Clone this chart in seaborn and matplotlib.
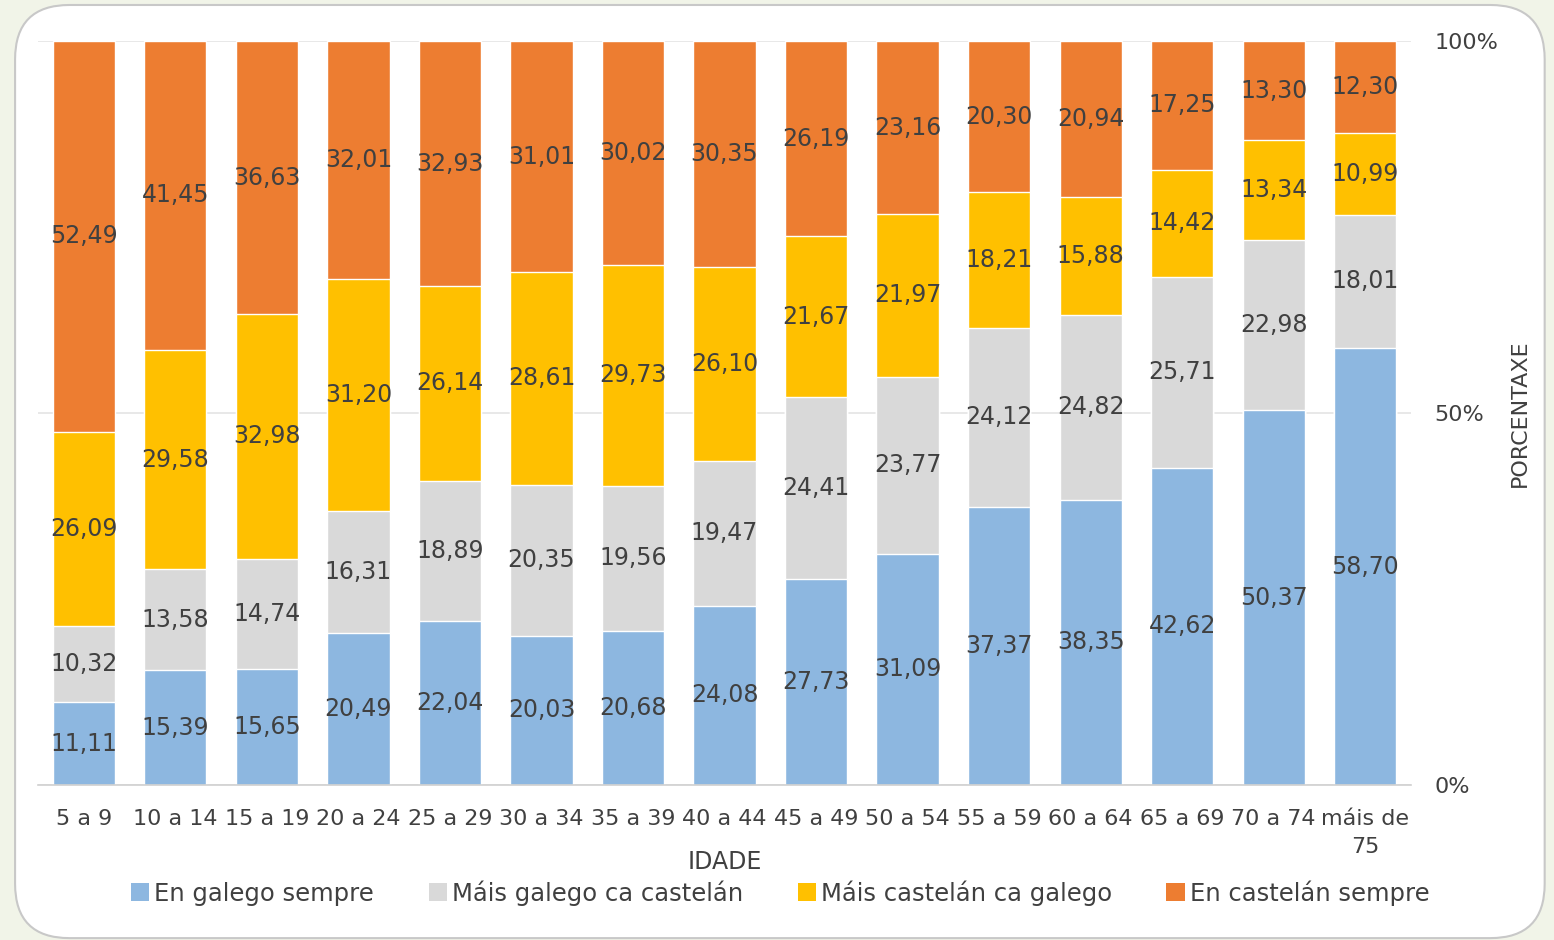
import matplotlib
matplotlib.use("Agg")
import matplotlib.pyplot as plt
from matplotlib.patches import FancyBboxPatch, Patch
import numpy as np
import pandas as pd
import seaborn as sns

# Age groups and share (%) of each language-use category
idade = ["5 a 9", "10 a 14", "15 a 19", "20 a 24", "25 a 29", "30 a 34",
         "35 a 39", "40 a 44", "45 a 49", "50 a 54", "55 a 59", "60 a 64",
         "65 a 69", "70 a 74", "máis de\n75"]
galego_sempre = [11.11, 15.39, 15.65, 20.49, 22.04, 20.03, 20.68, 24.08,
                 27.73, 31.09, 37.37, 38.35, 42.62, 50.37, 58.70]
mais_galego = [10.32, 13.58, 14.74, 16.31, 18.89, 20.35, 19.56, 19.47,
               24.41, 23.77, 24.12, 24.82, 25.71, 22.98, 18.01]
mais_castelan = [26.09, 29.58, 32.98, 31.20, 26.14, 28.61, 29.73, 26.10,
                 21.67, 21.97, 18.21, 15.88, 14.42, 13.34, 10.99]
castelan_sempre = [52.49, 41.45, 36.63, 32.01, 32.93, 31.01, 30.02, 30.35,
                   26.19, 23.16, 20.30, 20.94, 17.25, 13.30, 12.30]

series_names = ["En galego sempre", "Máis galego ca castelán",
                "Máis castelán ca galego", "En castelán sempre"]
series_vals = [galego_sempre, mais_galego, mais_castelan, castelan_sempre]
colors = ["#8DB7E0", "#D9D9D9", "#FFC000", "#ED7D31"]
text_col = "#404040"

sns.set_theme(style="white")
plt.rcParams["font.family"] = ["DejaVu Sans"]

fig = plt.figure(figsize=(15.54, 9.40), dpi=100)
fig.patch.set_facecolor("#F1F4E8")

# rounded white card behind the chart
card = FancyBboxPatch((0.0097, 0.002), 0.9843, 0.9927,
                      boxstyle="round,pad=0,rounding_size=0.035",
                      transform=fig.transFigure, facecolor="white",
                      edgecolor="#C8C8C8", linewidth=1.5, zorder=-5,
                      mutation_aspect=1554 / 940)
fig.patches.append(card)

ax = fig.add_axes([0.0245, 0.165, 0.8835, 0.791])
ax.set_facecolor("none")

# cumulative stacks, drawn tallest first so each shorter one covers the lower part
cum = np.cumsum(np.array(series_vals), axis=0)
df = pd.DataFrame({"idade": idade})
for i in range(3, -1, -1):
    df["val"] = cum[i]
    sns.barplot(data=df, x="idade", y="val", color=colors[i], width=0.68,
                saturation=1, ax=ax, zorder=2, order=idade)

# value labels centred in each segment
for i, vals in enumerate(series_vals):
    base = cum[i] - np.array(vals)
    for j, v in enumerate(vals):
        ax.text(j, base[j] + v / 2, f"{v:.2f}".replace(".", ","),
                ha="center", va="center", fontsize=17, color=text_col,
                zorder=5)

ax.set_ylim(0, 100)
ax.set_xlim(-0.5, len(idade) - 0.5)
ax.yaxis.tick_right()
ax.yaxis.set_label_position("right")
ax.set_yticks([0, 50, 100])
ax.set_yticklabels(["0%", "50%", "100%"])
ax.tick_params(axis="y", length=0, pad=17, labelsize=16, labelcolor=text_col)
ax.tick_params(axis="x", length=0, pad=17, labelsize=16, labelcolor=text_col)
for lab in ax.get_xticklabels():
    lab.set_linespacing(1.5)
    lab.set_va("top")
ax.grid(axis="y", color="#E4E4E4", linewidth=1.2, zorder=0)
for s in ["top", "left", "right"]:
    ax.spines[s].set_visible(False)
ax.spines["bottom"].set_color("#D0D0D0")
ax.spines["bottom"].set_linewidth(1.2)
ax.set_xlabel("IDADE", fontsize=17, color=text_col, labelpad=-5)
ax.set_ylabel("PORCENTAXE", fontsize=16, color=text_col, labelpad=8)

handles = [Patch(facecolor=c, edgecolor="none") for c in colors]
fig.legend(handles, series_names, loc="center", bbox_to_anchor=(0.502, 0.05),
           ncol=4, frameon=False, fontsize=17.5, handlelength=0.75,
           handleheight=0.75, handletextpad=0.2, columnspacing=2.25,
           labelcolor=text_col)

fig.savefig("out.png", dpi=100, facecolor=fig.get_facecolor())
